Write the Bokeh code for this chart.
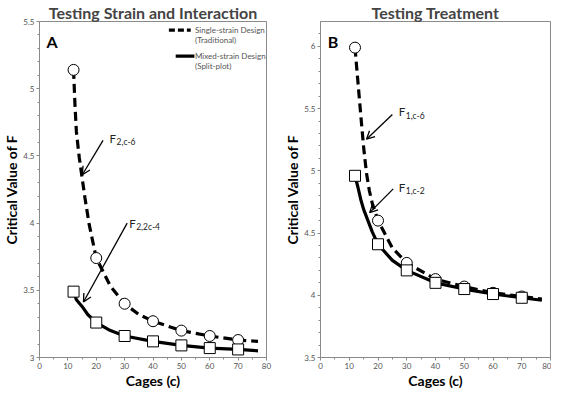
import math
from bokeh.plotting import figure
from bokeh.layouts import row
from bokeh.models import (FixedTicker, NumeralTickFormatter, Label, Arrow, OpenHead, Range1d)
from bokeh.embed import file_html
from bokeh.resources import INLINE

# ---------------- data ----------------
cages = [12, 20, 30, 40, 50, 60, 70]

# Panel A: Testing Strain and Interaction
a_single = [5.14, 3.74, 3.40, 3.27, 3.20, 3.16, 3.13]       # F(2, c-6)
a_mixed = [3.49, 3.26, 3.16, 3.12, 3.09, 3.07, 3.06]        # F(2, 2c-4)
a_single_curve_x = [12, 12.5, 13, 14, 15, 16, 17.5, 20, 25, 30, 35, 40, 50, 60, 70, 77]
a_single_curve_y = [5.14, 4.88, 4.68, 4.49, 4.34, 4.19, 3.99, 3.74, 3.53, 3.40, 3.32, 3.27, 3.20, 3.16, 3.13, 3.12]
a_mixed_curve_x = [12, 13, 15, 17, 20, 25, 30, 40, 50, 60, 70, 77]
a_mixed_curve_y = [3.49, 3.43, 3.38, 3.32, 3.26, 3.20, 3.16, 3.12, 3.09, 3.07, 3.06, 3.05]

# Panel B: Testing Treatment
b_single = [5.99, 4.60, 4.26, 4.13, 4.07, 4.02, 3.99]       # F(1, c-6)
b_mixed = [4.96, 4.41, 4.20, 4.10, 4.05, 4.01, 3.98]        # F(1, c-2)
b_single_curve_x = [12, 13, 14, 15, 16, 17, 18, 20, 25, 30, 40, 50, 60, 70, 77]
b_single_curve_y = [5.99, 5.72, 5.45, 5.19, 4.98, 4.84, 4.74, 4.60, 4.38, 4.26, 4.13, 4.07, 4.02, 3.99, 3.97]
b_mixed_curve_x = [12, 13, 14, 15, 16, 18, 20, 25, 30, 40, 50, 60, 70, 77]
b_mixed_curve_y = [4.96, 4.87, 4.77, 4.69, 4.63, 4.51, 4.41, 4.28, 4.20, 4.10, 4.05, 4.01, 3.98, 3.96]

x_ticks = [0, 10, 20, 30, 40, 50, 60, 70, 80]
x_minor = [5, 15, 25, 35, 45, 55, 65, 75]
a_y_ticks = [3, 3.5, 4, 4.5, 5, 5.5]
b_y_ticks = [3.5, 4, 4.5, 5, 5.5, 6]

titles = ["Testing Strain and Interaction", "Testing Treatment"]
x_label = "Cages (c)"
y_label = "Critical Value of F"
legend_labels = [("Single-strain Design", "(Traditional)"), ("Mixed-strain Design", "(Split-plot)")]

FONT = "Lato"
GRAY = "#8a8a8a"
TICKCOL = "#555555"


def base_fig(width, ymin, ymax, y_ticks, mb_left, mb_right, title):
    p = figure(width=width, height=391, output_backend="svg", toolbar_location=None,
               x_range=Range1d(0, 80), y_range=Range1d(ymin, ymax),
               min_border_left=mb_left, min_border_right=mb_right,
               min_border_top=0, min_border_bottom=0, title=title)
    p.title.text_font = FONT
    p.title.text_font_size = "16px"
    p.title.text_font_style = "bold"
    p.title.align = "center"
    p.title.standoff = 0
    p.title.offset = 0
    p.grid.visible = False
    p.outline_line_color = GRAY
    p.outline_line_width = 1
    p.background_fill_color = "white"
    p.border_fill_color = "white"
    minor_y = [round(ymin + 0.1 * k, 1) for k in range(1, int(round((ymax - ymin) / 0.1)))]
    minor_y = [v for v in minor_y if v not in y_ticks]
    p.xaxis.ticker = FixedTicker(ticks=x_ticks, minor_ticks=x_minor)
    p.yaxis.ticker = FixedTicker(ticks=y_ticks, minor_ticks=minor_y)
    p.xaxis.axis_label = x_label
    p.yaxis.axis_label = y_label
    for ax in (p.xaxis, p.yaxis):
        ax.axis_line_color = GRAY
        ax.major_tick_line_color = GRAY
        ax.minor_tick_line_color = GRAY
        ax.major_tick_out = 3
        ax.major_tick_in = 0
        ax.minor_tick_out = 2
        ax.minor_tick_in = 0
        ax.major_label_text_font = FONT
        ax.major_label_text_font_size = "8px"
        ax.major_label_text_color = TICKCOL
        ax.major_label_standoff = 2
        ax.formatter = NumeralTickFormatter(format="0.[0]")
        ax.axis_label_text_font = FONT
        ax.axis_label_text_font_size = "14px"
        ax.axis_label_text_font_style = "bold"
        ax.axis_label_text_color = "black"
        ax.axis_label_standoff = 0
    return p


def add_text(p, x, y, txt, size, bold=False, align="left", baseline="middle",
             color="black", x_offset=0, y_offset=0):
    p.add_layout(Label(x=x, y=y, text=txt, text_font=FONT, text_font_size=size,
                       text_font_style="bold" if bold else "normal", text_align=align,
                       text_baseline=baseline, text_color=color,
                       x_offset=x_offset, y_offset=y_offset))


def draw_series(p, cx1, cy1, cx2, cy2, s1, s2):
    p.line(cx1, cy1, line_color="black", line_width=3.2, line_dash="9 5")
    p.line(cx2, cy2, line_color="black", line_width=3.2)
    p.scatter(cages, s1, marker="circle", size=11, fill_color="white", line_color="black", line_width=1)
    p.scatter(cages, s2, marker="square", size=11, fill_color="white", line_color="black", line_width=1)


def arrow(p, x0, y0, x1, y1):
    p.add_layout(Arrow(end=OpenHead(size=8, line_width=1.3, line_color="black"),
                       x_start=x0, y_start=y0, x_end=x1, y_end=y1,
                       line_width=1.3, line_color="black"))


def sublabel(p, x, y, main, sub):
    add_text(p, x, y, main, "11.5px", color="#222222")
    add_text(p, x, y, sub, "8.5px", color="#222222", x_offset=7, y_offset=-4)


# ---------------- Panel A ----------------
pa = base_fig(281, 3, 5.5, a_y_ticks, 0, 15, titles[0])
draw_series(pa, a_single_curve_x, a_single_curve_y, a_mixed_curve_x, a_mixed_curve_y, a_single, a_mixed)
add_text(pa, 2.5, 5.35, "A", "16px", bold=True)
# legend
pa.line([45.6, 53.3], [5.436, 5.436], line_color="black", line_width=3.2, line_dash="6 3")
pa.line([48.0, 54.6], [5.243, 5.243], line_color="black", line_width=3.2)
add_text(pa, 54.8, 5.436, legend_labels[0][0], "8px", color=TICKCOL)
add_text(pa, 54.8, 5.365, legend_labels[0][1], "8px", color=TICKCOL)
add_text(pa, 54.8, 5.243, legend_labels[1][0], "8px", color=TICKCOL)
add_text(pa, 54.8, 5.172, legend_labels[1][1], "8px", color=TICKCOL)
# annotations
arrow(pa, 22.4, 4.615, 15.1, 4.36)
sublabel(pa, 24.7, 4.63, "F", "2,c-6")
arrow(pa, 30.9, 4.0, 15.5, 3.413)
sublabel(pa, 31.6, 4.0, "F", "2,2c-4")

# ---------------- Panel B ----------------
pb = base_fig(270, 3.5, 6.2, b_y_ticks, 0, 1, titles[1])
draw_series(pb, b_single_curve_x, b_single_curve_y, b_mixed_curve_x, b_mixed_curve_y, b_single, b_mixed)
add_text(pb, 2.5, 6.04, "B", "16px", bold=True)
arrow(pb, 25.0, 5.453, 16.0, 5.254)
sublabel(pb, 27.2, 5.473, "F", "1,c-6")
arrow(pb, 25.3, 4.855, 17.1, 4.664)
sublabel(pb, 27.2, 4.867, "F", "1,c-2")

layout = row(pa, pb)
open("out.html", "w").write(file_html(layout, INLINE))
